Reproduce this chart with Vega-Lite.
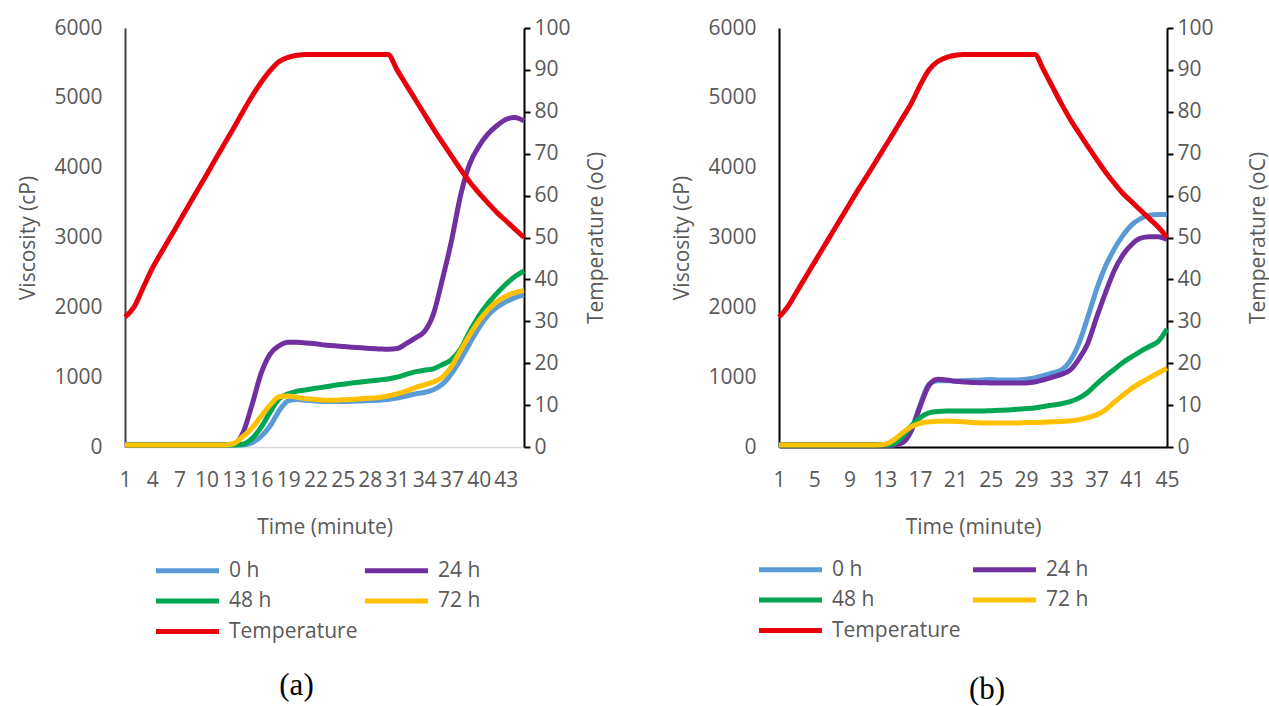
{
  "$schema": "https://vega.github.io/schema/vega-lite/v6.json",
  "background": "white",
  "padding": {"left": 17, "top": 17, "right": 0, "bottom": 0},
  "datasets": {
    "a": [
      {"t":1,"h0":30,"h24":30,"h48":30,"h72":30,"T":31},
      {"t":2,"h0":30,"h24":30,"h48":30,"h72":30,"T":33.4},
      {"t":3,"h0":30,"h24":30,"h48":30,"h72":30,"T":38},
      {"t":4,"h0":30,"h24":30,"h48":30,"h72":30,"T":42.6},
      {"t":5,"h0":30,"h24":30,"h48":30,"h72":30,"T":46.4},
      {"t":6,"h0":30,"h24":30,"h48":30,"h72":30,"T":50.1},
      {"t":7,"h0":30,"h24":30,"h48":30,"h72":30,"T":53.8},
      {"t":8,"h0":30,"h24":30,"h48":30,"h72":30,"T":57.6},
      {"t":9,"h0":30,"h24":30,"h48":30,"h72":30,"T":61.3},
      {"t":10,"h0":30,"h24":30,"h48":30,"h72":30,"T":65},
      {"t":11,"h0":30,"h24":30,"h48":30,"h72":30,"T":68.8},
      {"t":12,"h0":30,"h24":30,"h48":30,"h72":30,"T":72.5},
      {"t":13,"h0":30,"h24":40,"h48":30,"h72":50,"T":76.2},
      {"t":14,"h0":30,"h24":200,"h48":40,"h72":150,"T":80},
      {"t":15,"h0":60,"h24":600,"h48":120,"h72":270,"T":83.7},
      {"t":16,"h0":150,"h24":1050,"h48":280,"h72":440,"T":87},
      {"t":17,"h0":300,"h24":1330,"h48":500,"h72":600,"T":89.8},
      {"t":18,"h0":520,"h24":1450,"h48":690,"h72":720,"T":92},
      {"t":19,"h0":660,"h24":1500,"h48":760,"h72":730,"T":93},
      {"t":20,"h0":680,"h24":1500,"h48":800,"h72":710,"T":93.5},
      {"t":21,"h0":670,"h24":1490,"h48":820,"h72":690,"T":93.7},
      {"t":22,"h0":660,"h24":1480,"h48":840,"h72":680,"T":93.7},
      {"t":23,"h0":650,"h24":1460,"h48":860,"h72":670,"T":93.7},
      {"t":24,"h0":650,"h24":1450,"h48":880,"h72":670,"T":93.7},
      {"t":25,"h0":650,"h24":1440,"h48":900,"h72":675,"T":93.7},
      {"t":26,"h0":655,"h24":1430,"h48":915,"h72":680,"T":93.7},
      {"t":27,"h0":660,"h24":1420,"h48":930,"h72":690,"T":93.7},
      {"t":28,"h0":665,"h24":1410,"h48":945,"h72":700,"T":93.7},
      {"t":29,"h0":670,"h24":1405,"h48":960,"h72":710,"T":93.7},
      {"t":30,"h0":680,"h24":1400,"h48":975,"h72":730,"T":93.7},
      {"t":31,"h0":700,"h24":1410,"h48":1000,"h72":760,"T":90},
      {"t":32,"h0":730,"h24":1480,"h48":1040,"h72":800,"T":86.5},
      {"t":33,"h0":760,"h24":1560,"h48":1075,"h72":850,"T":83},
      {"t":34,"h0":780,"h24":1650,"h48":1100,"h72":890,"T":79.5},
      {"t":35,"h0":820,"h24":1900,"h48":1120,"h72":930,"T":76},
      {"t":36,"h0":900,"h24":2400,"h48":1180,"h72":1000,"T":72.7},
      {"t":37,"h0":1050,"h24":2950,"h48":1250,"h72":1150,"T":69.5},
      {"t":38,"h0":1250,"h24":3600,"h48":1400,"h72":1380,"T":66.3},
      {"t":39,"h0":1480,"h24":4050,"h48":1650,"h72":1600,"T":63.3},
      {"t":40,"h0":1700,"h24":4300,"h48":1870,"h72":1800,"T":60.7},
      {"t":41,"h0":1880,"h24":4480,"h48":2050,"h72":1960,"T":58.3},
      {"t":42,"h0":2000,"h24":4600,"h48":2200,"h72":2080,"T":56},
      {"t":43,"h0":2080,"h24":4690,"h48":2330,"h72":2160,"T":54},
      {"t":44,"h0":2140,"h24":4720,"h48":2440,"h72":2210,"T":52},
      {"t":45,"h0":2180,"h24":4670,"h48":2520,"h72":2240,"T":50}
    ],
    "b": [
      {"t":1,"h0":30,"h24":30,"h48":30,"h72":30,"T":31},
      {"t":2,"h0":30,"h24":30,"h48":30,"h72":30,"T":33.5},
      {"t":3,"h0":30,"h24":30,"h48":30,"h72":30,"T":37},
      {"t":4,"h0":30,"h24":30,"h48":30,"h72":30,"T":40.5},
      {"t":5,"h0":30,"h24":30,"h48":30,"h72":30,"T":44},
      {"t":6,"h0":30,"h24":30,"h48":30,"h72":30,"T":47.5},
      {"t":7,"h0":30,"h24":30,"h48":30,"h72":30,"T":51},
      {"t":8,"h0":30,"h24":30,"h48":30,"h72":30,"T":54.5},
      {"t":9,"h0":30,"h24":30,"h48":30,"h72":30,"T":58},
      {"t":10,"h0":30,"h24":30,"h48":30,"h72":30,"T":61.5},
      {"t":11,"h0":30,"h24":30,"h48":30,"h72":30,"T":64.8},
      {"t":12,"h0":30,"h24":30,"h48":30,"h72":30,"T":68.2},
      {"t":13,"h0":30,"h24":30,"h48":30,"h72":40,"T":71.6},
      {"t":14,"h0":30,"h24":30,"h48":50,"h72":100,"T":75},
      {"t":15,"h0":80,"h24":60,"h48":150,"h72":200,"T":78.5},
      {"t":16,"h0":250,"h24":230,"h48":300,"h72":290,"T":82},
      {"t":17,"h0":600,"h24":580,"h48":420,"h72":340,"T":86.3},
      {"t":18,"h0":900,"h24":880,"h48":490,"h72":360,"T":90},
      {"t":19,"h0":950,"h24":970,"h48":510,"h72":370,"T":92},
      {"t":20,"h0":950,"h24":960,"h48":515,"h72":370,"T":93},
      {"t":21,"h0":945,"h24":940,"h48":515,"h72":365,"T":93.5},
      {"t":22,"h0":950,"h24":930,"h48":515,"h72":360,"T":93.7},
      {"t":23,"h0":955,"h24":925,"h48":515,"h72":350,"T":93.7},
      {"t":24,"h0":960,"h24":920,"h48":515,"h72":345,"T":93.7},
      {"t":25,"h0":965,"h24":918,"h48":520,"h72":345,"T":93.7},
      {"t":26,"h0":960,"h24":915,"h48":525,"h72":345,"T":93.7},
      {"t":27,"h0":960,"h24":915,"h48":530,"h72":345,"T":93.7},
      {"t":28,"h0":960,"h24":915,"h48":540,"h72":345,"T":93.7},
      {"t":29,"h0":970,"h24":918,"h48":550,"h72":350,"T":93.7},
      {"t":30,"h0":990,"h24":930,"h48":560,"h72":350,"T":93.7},
      {"t":31,"h0":1020,"h24":960,"h48":580,"h72":355,"T":90},
      {"t":32,"h0":1060,"h24":1000,"h48":600,"h72":360,"T":86},
      {"t":33,"h0":1100,"h24":1040,"h48":620,"h72":365,"T":82},
      {"t":34,"h0":1230,"h24":1100,"h48":650,"h72":375,"T":78.3},
      {"t":35,"h0":1480,"h24":1260,"h48":700,"h72":390,"T":75},
      {"t":36,"h0":1850,"h24":1480,"h48":780,"h72":420,"T":71.8},
      {"t":37,"h0":2250,"h24":1850,"h48":900,"h72":460,"T":68.7},
      {"t":38,"h0":2580,"h24":2200,"h48":1010,"h72":530,"T":65.7},
      {"t":39,"h0":2830,"h24":2520,"h48":1110,"h72":640,"T":63},
      {"t":40,"h0":3030,"h24":2750,"h48":1210,"h72":740,"T":60.5},
      {"t":41,"h0":3180,"h24":2900,"h48":1290,"h72":840,"T":58.5},
      {"t":42,"h0":3270,"h24":2990,"h48":1370,"h72":920,"T":56.5},
      {"t":43,"h0":3320,"h24":3010,"h48":1440,"h72":990,"T":54.5},
      {"t":44,"h0":3330,"h24":3010,"h48":1510,"h72":1060,"T":52.5},
      {"t":45,"h0":3330,"h24":2970,"h48":1690,"h72":1130,"T":50}
    ]
  },
  "spacing": 64,
  "hconcat": [
    {
      "width": 399,
      "height": 419,
      "data": {"name": "a"},
      "title": {"text": "(a)", "orient": "bottom", "frame": "group", "anchor": "middle", "dx": -28, "offset": 29, "font": "Liberation Serif", "fontSize": 31, "fontWeight": "normal", "color": "#000000"},
      "encoding": {
        "x": {"field": "t", "type": "quantitative", "scale": {"domain": [1, 45], "nice": false},
              "axis": {"values": [1,4,7,10,13,16,19,22,25,28,31,34,37,40,43], "title": "Time (minute)", "domainColor": "#D9D9D9", "domainWidth": 1.5, "ticks": false, "grid": false, "labelPadding": 22, "titlePadding": 26, "labelFlush": false, "labelOverlap": false, "labelBound": false}}
      },
      "layer": [
        {
          "transform": [{"fold": ["h0", "h24", "h48", "h72"], "as": ["series", "v"]}],
          "mark": {"type": "line", "strokeWidth": 5, "interpolate": "monotone"},
          "encoding": {
            "y": {"field": "v", "type": "quantitative", "scale": {"domain": [0, 6000]},
                  "axis": {"values": [0,1000,2000,3000,4000,5000,6000], "format": "d", "title": "Viscosity (cP)", "ticks": false, "grid": false, "labelPadding": 23, "domainColor": "#404040", "domainWidth": 2, "titlePadding": 15}},
            "color": {"field": "series", "type": "nominal",
                      "scale": {"domain": ["h0", "h24", "h48", "h72", "Temperature"], "range": ["#5B9BD5", "#7030A0", "#00A651", "#FFC000", "#E8000B"]},
                      "legend": {"orient": "none", "direction": "horizontal", "legendX": 44, "legendY": 524, "columns": 2, "columnPadding": -3, "rowPadding": 1.5, "padding": 0, "title": null,
                                 "symbolType": "M-2,0H2", "symbolSize": 992, "symbolStrokeWidth": 5, "labelOffset": 23,
                                 "labelFont": "Open Sans", "labelFontSize": 21, "labelColor": "#595959",
                                 "labelExpr": "datum.label == 'Temperature' ? 'Temperature' : replace(datum.label, 'h', '') + ' h'"}}
          }
        },
        {
          "mark": {"type": "line", "strokeWidth": 5, "interpolate": "monotone"},
          "encoding": {
            "y": {"field": "T", "type": "quantitative", "scale": {"domain": [0, 100]},
                  "axis": {"orient": "right", "values": [0,10,20,30,40,50,60,70,80,90,100], "title": "Temperature (oC)", "titleAngle": 270, "grid": false, "tickSize": 6, "tickWidth": 2, "tickColor": "#000000", "domainColor": "#000000", "domainWidth": 2, "labelPadding": 4, "titlePadding": 36}},
            "color": {"datum": "Temperature", "type": "nominal"}
          }
        }
      ],
      "resolve": {"scale": {"y": "independent"}}
    },
    {
      "width": 388,
      "height": 419,
      "data": {"name": "b"},
      "title": {"text": "(b)", "orient": "bottom", "frame": "group", "anchor": "middle", "dx": 14, "offset": 34, "font": "Liberation Serif", "fontSize": 31, "fontWeight": "normal", "color": "#000000"},
      "encoding": {
        "x": {"field": "t", "type": "quantitative", "scale": {"domain": [1, 45], "nice": false},
              "axis": {"values": [1,5,9,13,17,21,25,29,33,37,41,45], "title": "Time (minute)", "domainColor": "#000000", "domainWidth": 2, "ticks": false, "grid": false, "labelPadding": 22, "titlePadding": 26, "labelFlush": false, "labelOverlap": false, "labelBound": false}}
      },
      "layer": [
        {
          "transform": [{"fold": ["h0", "h24", "h48", "h72"], "as": ["series", "v"]}],
          "mark": {"type": "line", "strokeWidth": 5, "interpolate": "monotone"},
          "encoding": {
            "y": {"field": "v", "type": "quantitative", "scale": {"domain": [0, 6000]},
                  "axis": {"values": [0,1000,2000,3000,4000,5000,6000], "format": "d", "title": "Viscosity (cP)", "ticks": false, "grid": false, "labelPadding": 23, "domainColor": "#000000", "domainWidth": 2, "titlePadding": 15}},
            "color": {"field": "series", "type": "nominal",
                      "scale": {"domain": ["h0", "h24", "h48", "h72", "Temperature"], "range": ["#5B9BD5", "#7030A0", "#00A651", "#FFC000", "#E8000B"]},
                      "legend": {"orient": "none", "direction": "horizontal", "legendX": -7, "legendY": 523, "columns": 2, "columnPadding": 2, "rowPadding": 1.5, "padding": 0, "title": null,
                                 "symbolType": "M-2,0H2", "symbolSize": 992, "symbolStrokeWidth": 5, "labelOffset": 23,
                                 "labelFont": "Open Sans", "labelFontSize": 21, "labelColor": "#595959",
                                 "labelExpr": "datum.label == 'Temperature' ? 'Temperature' : replace(datum.label, 'h', '') + ' h'"}}
          }
        },
        {
          "mark": {"type": "line", "strokeWidth": 5, "interpolate": "monotone"},
          "encoding": {
            "y": {"field": "T", "type": "quantitative", "scale": {"domain": [0, 100]},
                  "axis": {"orient": "right", "values": [0,10,20,30,40,50,60,70,80,90,100], "title": "Temperature (oC)", "titleAngle": 270, "grid": false, "tickSize": 6, "tickWidth": 2, "tickColor": "#000000", "domainColor": "#000000", "domainWidth": 2, "labelPadding": 4, "titlePadding": 55}},
            "color": {"datum": "Temperature", "type": "nominal"}
          }
        }
      ],
      "resolve": {"scale": {"y": "independent"}}
    }
  ],
  "resolve": {"scale": {"color": "independent"}, "legend": {"color": "independent"}},
  "config": {
    "view": {"stroke": null},
    "axis": {"labelFont": "Open Sans", "labelFontSize": 21, "labelColor": "#595959", "titleFont": "Open Sans", "titleFontSize": 21, "titleFontWeight": "normal", "titleColor": "#595959"}
  }
}
